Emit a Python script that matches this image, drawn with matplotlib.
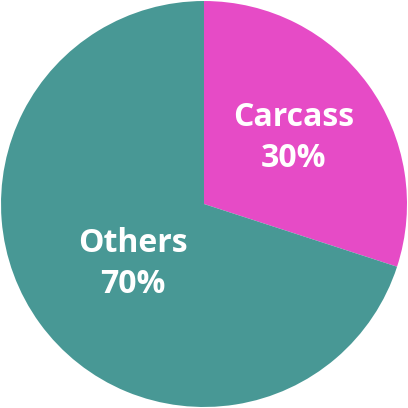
import matplotlib
matplotlib.use("Agg")
import matplotlib.pyplot as plt

labels = ["Carcass", "Others"]
values = [30, 70]
colors = ["#E64BC6", "#489895"]

fig = plt.figure(figsize=(4.08, 4.08), dpi=100)
ax = fig.add_axes([0, 0, 1, 1])
wedges, _ = ax.pie(values, colors=colors, startangle=90, counterclock=False,
                   radius=1.0, wedgeprops=dict(linewidth=0))
ax.set_xlim(-1.005, 1.005)
ax.set_ylim(-1.005, 1.005)
ax.set_aspect("equal")
ax.axis("off")

label_pos = [(0.443, 0.325), (-0.35, -0.295)]
for (x, y), lab, v in zip(label_pos, labels, values):
    ax.text(x, y, f"{lab}\n{v}%", ha="center", va="center", color="white",
            fontsize=23, fontweight="bold", family=["Open Sans", "DejaVu Sans"],
            linespacing=1.32)

fig.savefig("out.png", dpi=100, transparent=False, facecolor="white")
